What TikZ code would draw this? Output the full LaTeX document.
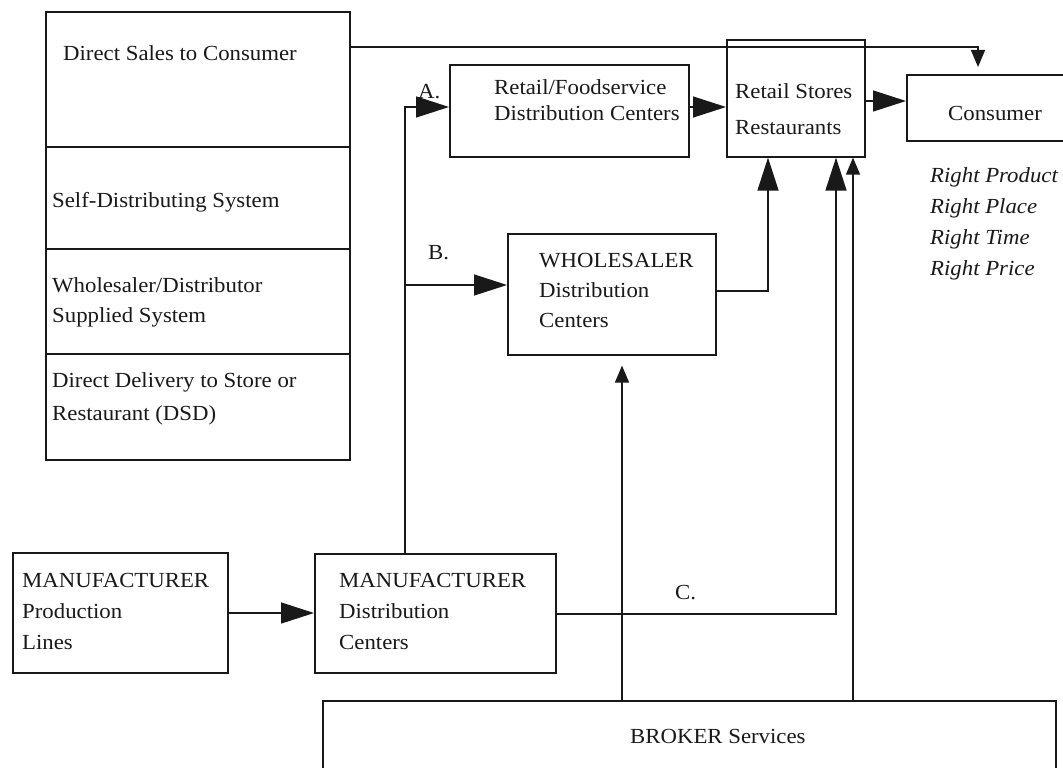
\documentclass[tikz,border=0pt]{standalone}
\usepackage{fontspec}
\setmainfont{Liberation Serif}[FakeStretch=1.06]
\usetikzlibrary{arrows.meta}
\definecolor{ink}{RGB}{25,25,25}
\newcommand\stackl[2]{\vtop{\baselineskip=#1\relax #2}}
\tikzset{
 box/.style={draw=ink, line width=1.6pt, rectangle, inner sep=0pt, anchor=north west},
 txt/.style={anchor=base west, inner sep=0pt, text=ink, font=\fontsize{21.5}{31}\selectfont},
 conn/.style={draw=ink, line width=1.4pt},
 barrow/.style={conn, -{Triangle[length=33pt,width=21pt]}},
 sarrow/.style={conn, -{Triangle[length=17pt,width=14pt]}},
}
\begin{document}
\begin{tikzpicture}[x=1pt,y=-1pt]
\clip (0,0) rectangle (1063,768);
\fill[white] (0,0) rectangle (1063,768);
% boxes
\node[box, minimum width=304pt, minimum height=135pt] (ds) at (45,11) {};
\node[box, minimum width=304pt, minimum height=102pt] (sd) at (45,146) {};
\node[box, minimum width=304pt, minimum height=105pt] (ws) at (45,248) {};
\node[box, minimum width=304pt, minimum height=106pt] (dsd) at (45,353) {};
\node[box, minimum width=239pt, minimum height=92pt] (rf) at (449,64) {};
\node[box, minimum width=138pt, minimum height=117pt] (rs) at (726,39) {};
\node[box, minimum width=170pt, minimum height=66pt] (cons) at (906,74) {};
\node[box, minimum width=208pt, minimum height=121pt] (wh) at (507,233) {};
\node[box, minimum width=215pt, minimum height=120pt] (mp) at (12,552) {};
\node[box, minimum width=241pt, minimum height=119pt] (md) at (314,553) {};
\node[box, minimum width=733pt, minimum height=100pt] (br) at (322,700) {};
% texts
\node[txt] (tds) at (63,60) {Direct Sales to Consumer};
\node[txt] (tsd) at (52,207) {Self-Distributing System};
\node[txt] (tws) at (52,292) {\stackl{30pt}{\hbox{Wholesaler/Distributor}\hbox{Supplied System}}};
\node[txt] (tdsd) at (52,387) {\stackl{33pt}{\hbox{Direct Delivery to Store or}\hbox{Restaurant (DSD)}}};
\node[txt] (trf) at (494,95) {\stackl{25pt}{\hbox{Retail/Foodservice}\hbox{Distribution Centers}}};
\node[txt] (trs) at (735,98) {\stackl{36pt}{\hbox{Retail Stores}\hbox{Restaurants}}};
\node[txt] (tcons) at (948,121) {Consumer};
\node[txt, font=\fontsize{21.5}{31}\selectfont\itshape] (tright) at (930,182) {\stackl{31pt}{\hbox{Right Product}\hbox{Right Place}\hbox{Right Time}\hbox{Right Price}}};
\node[txt] (twh) at (539,267) {\stackl{30pt}{\hbox{WHOLESALER}\hbox{Distribution}\hbox{Centers}}};
\node[txt] (tmp) at (22,587) {\stackl{31pt}{\hbox{MANUFACTURER}\hbox{Production}\hbox{Lines}}};
\node[txt] (tmd) at (339,587) {\stackl{31pt}{\hbox{MANUFACTURER}\hbox{Distribution}\hbox{Centers}}};
\node[txt] (tbr) at (630,743) {BROKER Services};
\node[txt] (la) at (418,98) {A.};
\node[txt] (lb) at (428,259) {B.};
\node[txt] (lc) at (675,599) {C.};
% connectors
\coordinate (ptop) at (978,47);
\draw[sarrow, shorten >=7pt] (ds.east |- ptop) -- (ptop) -- (cons.north -| ptop);
\coordinate (yA) at (405,107);
\draw[barrow] (md.north -| yA) -- (yA) -- (rf.west |- yA);
\coordinate (yB) at (405,285);
\draw[barrow] (yB) -- (wh.west |- yB);
\coordinate (yRF) at (0,107);
\draw[barrow] (rf.east |- yRF) -- (rs.west |- yRF);
\coordinate (yRS) at (0,101);
\draw[barrow] (rs.east |- yRS) -- (cons.west |- yRS);
\coordinate (pW) at (768,291);
\draw[barrow] (wh.east |- pW) -- (pW) -- (rs.south -| pW);
\coordinate (pC) at (836,614);
\draw[barrow] (md.east |- pC) -- (pC) -- (rs.south -| pC);
\coordinate (xBW) at (622,0);
\draw[sarrow, shorten >=10pt] (br.north -| xBW) -- (wh.south -| xBW);
\coordinate (xBR) at (853,0);
\draw[sarrow] (br.north -| xBR) -- (rs.south -| xBR);
\coordinate (yM) at (0,613);
\draw[barrow] (mp.east |- yM) -- (md.west |- yM);
\end{tikzpicture}
\end{document}
